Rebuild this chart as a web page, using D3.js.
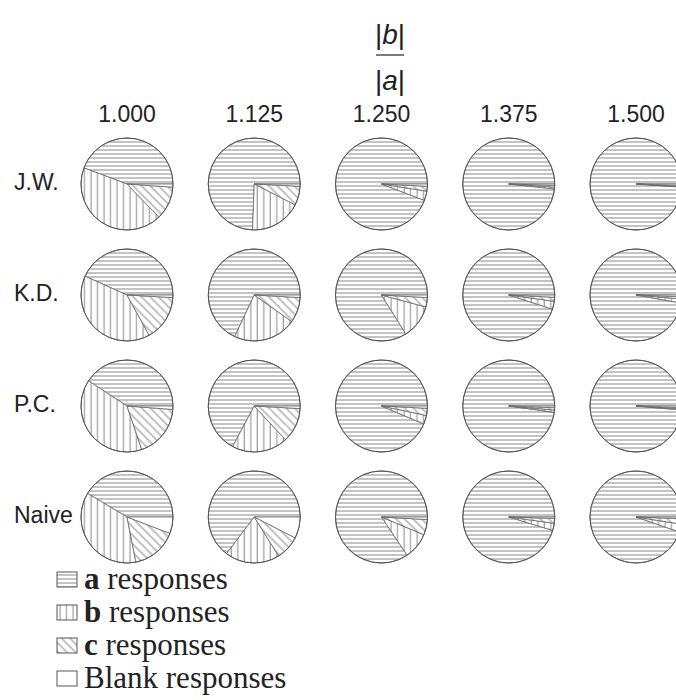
<!DOCTYPE html>
<html>
<head>
<meta charset="utf-8">
<script src="https://cdn.jsdelivr.net/npm/d3@7"></script>
<style>
  html, body { margin: 0; padding: 0; background: #fff; }
  svg { display: block; }
</style>
</head>
<body>
<svg id="chart" width="676" height="700"></svg>
<script>
// ratio |b|/|a| shown across the top
const ratios = ["1.000", "1.125", "1.250", "1.375", "1.500"];
const observers = ["J.W.", "K.D.", "P.C.", "Naive"];
const categories = ["a", "b", "c", "blank"];

// percent of responses per pie, one row per observer, one entry per ratio
const aResponses = [
  [44.3, 74.4, 94.2, 98.3, 98.9],
  [43.3, 68.0, 83.9, 95.0, 97.2],
  [40.8, 67.2, 93.6, 97.8, 98.6],
  [41.4, 64.7, 84.4, 95.3, 94.7]
];
const bResponses = [
  [42.9, 18.1, 3.3, 0.6, 0.3],
  [39.7, 22.2, 11.9, 2.8, 1.4],
  [39.4, 19.7, 3.1, 0.8, 0.4],
  [36.7, 19.2, 9.3, 2.5, 2.8]
];
const cResponses = [
  [11.7, 6.7, 1.7, 0.6, 0.3],
  [16.1, 8.9, 3.3, 1.4, 0.8],
  [18.6, 12.2, 2.5, 0.8, 0.4],
  [16.1, 8.6, 5.4, 1.7, 1.9]
];
const blankResponses = [
  [1.1, 0.8, 0.8, 0.5, 0.5],
  [0.9, 0.9, 0.9, 0.8, 0.6],
  [1.2, 0.9, 0.8, 0.6, 0.6],
  [5.8, 7.5, 0.9, 0.5, 0.6]
];

const legendLabels = [
  { key: "a", bold: "a", rest: " responses" },
  { key: "b", bold: "b", rest: " responses" },
  { key: "c", bold: "c", rest: " responses" },
  { key: "blank", bold: "", rest: "Blank responses" }
];

const svg = d3.select("#chart");
const sans = "'Liberation Sans', Arial, sans-serif";
const serif = "'Liberation Serif', 'Times New Roman', serif";

// hatch patterns
const defs = svg.append("defs");
const hatchColor = "#888";

function hatch(id, spacing, rotate) {
  const p = defs.append("pattern")
    .attr("id", id)
    .attr("patternUnits", "userSpaceOnUse")
    .attr("width", spacing)
    .attr("height", spacing);
  if (rotate) p.attr("patternTransform", `rotate(${rotate})`);
  p.append("rect").attr("width", spacing).attr("height", spacing).attr("fill", "#fff");
  return p;
}
hatch("hatch-a", 4).append("line")
  .attr("x1", 0).attr("x2", 4).attr("y1", 2).attr("y2", 2)
  .attr("stroke", hatchColor).attr("stroke-width", 1);
hatch("hatch-b", 6.5).append("line")
  .attr("x1", 3).attr("x2", 3).attr("y1", 0).attr("y2", 6.5)
  .attr("stroke", hatchColor).attr("stroke-width", 1);
hatch("hatch-c", 6, -45).append("line")
  .attr("x1", 3).attr("x2", 3).attr("y1", 0).attr("y2", 6)
  .attr("stroke", hatchColor).attr("stroke-width", 1);

const fills = { a: "url(#hatch-a)", b: "url(#hatch-b)", c: "url(#hatch-c)", blank: "#fff" };

// grid layout
const x = d3.scalePoint().domain(ratios).range([127, 636]);
const y = d3.scalePoint().domain(observers).range([184, 517]);
const radius = 46;

// title: |b| / |a|
const title = svg.append("g").attr("transform", "translate(390,0)")
  .style("font-family", sans).style("font-size", "28px").attr("fill", "#222");
const numer = title.append("text").attr("y", 44).attr("text-anchor", "middle");
numer.append("tspan").text("|");
numer.append("tspan").attr("font-style", "italic").text("b");
numer.append("tspan").text("|");
title.append("line").attr("x1", -14).attr("x2", 14).attr("y1", 55).attr("y2", 55)
  .attr("stroke", "#222").attr("stroke-width", 1.2);
const denom = title.append("text").attr("y", 90).attr("text-anchor", "middle");
denom.append("tspan").text("|");
denom.append("tspan").attr("font-style", "italic").text("a");
denom.append("tspan").text("|");

// column labels
svg.append("g").selectAll("text")
  .data(ratios)
  .join("text")
  .attr("x", d => x(d))
  .attr("y", 122)
  .attr("text-anchor", "middle")
  .style("font-family", sans)
  .style("font-size", "23px")
  .attr("fill", "#222")
  .text(d => d);

// row labels
svg.append("g").selectAll("text")
  .data(observers)
  .join("text")
  .attr("x", 14)
  .attr("y", d => y(d) + 6)
  .style("font-family", sans)
  .style("font-size", "23px")
  .attr("fill", "#222")
  .text(d => d);

// pies, starting at 3 o'clock and running counter-clockwise
const pie = d3.pie()
  .sort(null)
  .value(d => d.value)
  .startAngle(Math.PI / 2)
  .endAngle(Math.PI / 2 - 2 * Math.PI);
const arc = d3.arc().innerRadius(0).outerRadius(radius);

const cells = [];
observers.forEach((obs, i) => {
  ratios.forEach((r, j) => {
    cells.push({
      obs, r,
      slices: [
        { key: "a", value: aResponses[i][j] },
        { key: "b", value: bResponses[i][j] },
        { key: "c", value: cResponses[i][j] },
        { key: "blank", value: blankResponses[i][j] }
      ]
    });
  });
});

const pies = svg.append("g").selectAll("g")
  .data(cells)
  .join("g")
  .attr("transform", d => `translate(${x(d.r)},${y(d.obs)})`);

pies.selectAll("path")
  .data(d => pie(d.slices))
  .join("path")
  .attr("d", arc)
  .attr("fill", d => fills[d.data.key])
  .attr("stroke", "#666")
  .attr("stroke-width", 0.8)
  .attr("stroke-linejoin", "round");

pies.append("circle")
  .attr("r", radius)
  .attr("fill", "none")
  .attr("stroke", "#555")
  .attr("stroke-width", 1);

// legend
const legend = svg.append("g").selectAll("g")
  .data(legendLabels)
  .join("g")
  .attr("transform", (d, i) => `translate(57,${589 + i * 33})`);

legend.append("rect")
  .attr("x", 0).attr("y", -17)
  .attr("width", 20).attr("height", 15)
  .attr("fill", d => fills[d.key])
  .attr("stroke", "#555")
  .attr("stroke-width", 1);

const lt = legend.append("text")
  .attr("x", 27)
  .attr("y", 0)
  .style("font-family", serif)
  .style("font-size", "31px")
  .attr("fill", "#222");
lt.append("tspan").attr("font-weight", "bold").text(d => d.bold);
lt.append("tspan").text(d => d.rest);
</script>
</body>
</html>
